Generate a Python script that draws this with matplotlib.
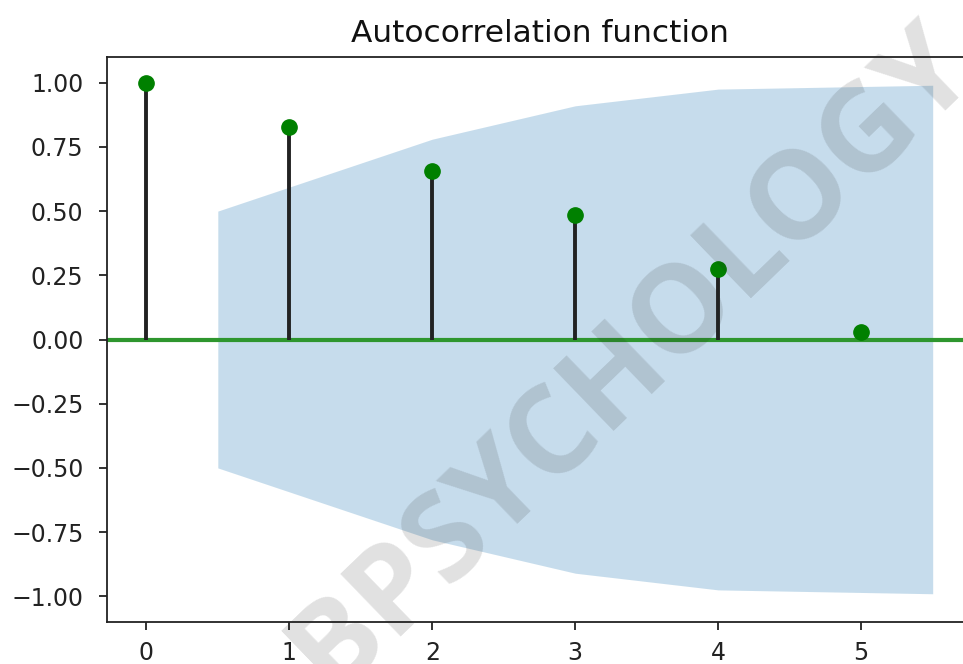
#!/usr/bin/env python3

import matplotlib
matplotlib.use("Agg")
import matplotlib.pyplot as plt
import numpy as np

# autocorrelation values
lags = [0, 1, 2, 3, 4, 5]
acf_values = [1.00, 0.828, 0.656, 0.484, 0.273, 0.031]

# confidence band (half-width), drawn from lag 1 on, ends pushed out by 0.5
band_lags = [0.5, 2, 3, 4, 5.5]
band_width = [0.50, 0.78, 0.91, 0.975, 0.99]

yticks = [-1.00, -0.75, -0.50, -0.25, 0.00, 0.25, 0.50, 0.75, 1.00]
xticks = [0, 1, 2, 3, 4, 5]

plt.rcParams['font.family'] = ['DejaVu Sans']

fig = plt.figure(figsize=(9.63, 6.64), dpi=100)
ax = fig.add_axes([107/963, 42/664, 865/963, 565/664])

band = np.array(band_width)
ax.fill_between(band_lags, -band, band, color='#1f77b4', alpha=0.25,
                linewidth=0)
ax.axhline(0, color='#2e962e', linewidth=3.0, zorder=2)
ax.vlines(lags, 0, acf_values, color='#222222', linewidth=2.8, zorder=3)
ax.plot(lags, acf_values, 'o', color='green', markersize=11, zorder=4)

ax.set_xlim(-0.275, 5.775)
ax.set_ylim(-1.1, 1.1)
ax.set_xticks(xticks)
ax.set_yticks(yticks)
ax.set_yticklabels(["{:.2f}".format(t).replace('-', '\u2212') for t in yticks])
ax.tick_params(labelsize=17, length=6, width=1.3, colors='#222222')
ax.tick_params(axis='x', pad=8)
ax.tick_params(axis='y', pad=11)
for s in ax.spines.values():
    s.set_linewidth(1.3)
    s.set_color('#222222')
ax.set_title("Autocorrelation function", fontsize=22.5, pad=11, color='#111111')

# watermark across the plot
fig.text(0.656, 0.46, "BPSYCHOLOGY", rotation=44, fontsize=88,
         fontweight='bold', family='Open Sans', color='#262626', alpha=0.14,
         ha='center', va='center', zorder=10)

fig.savefig("out.png", dpi=100)
